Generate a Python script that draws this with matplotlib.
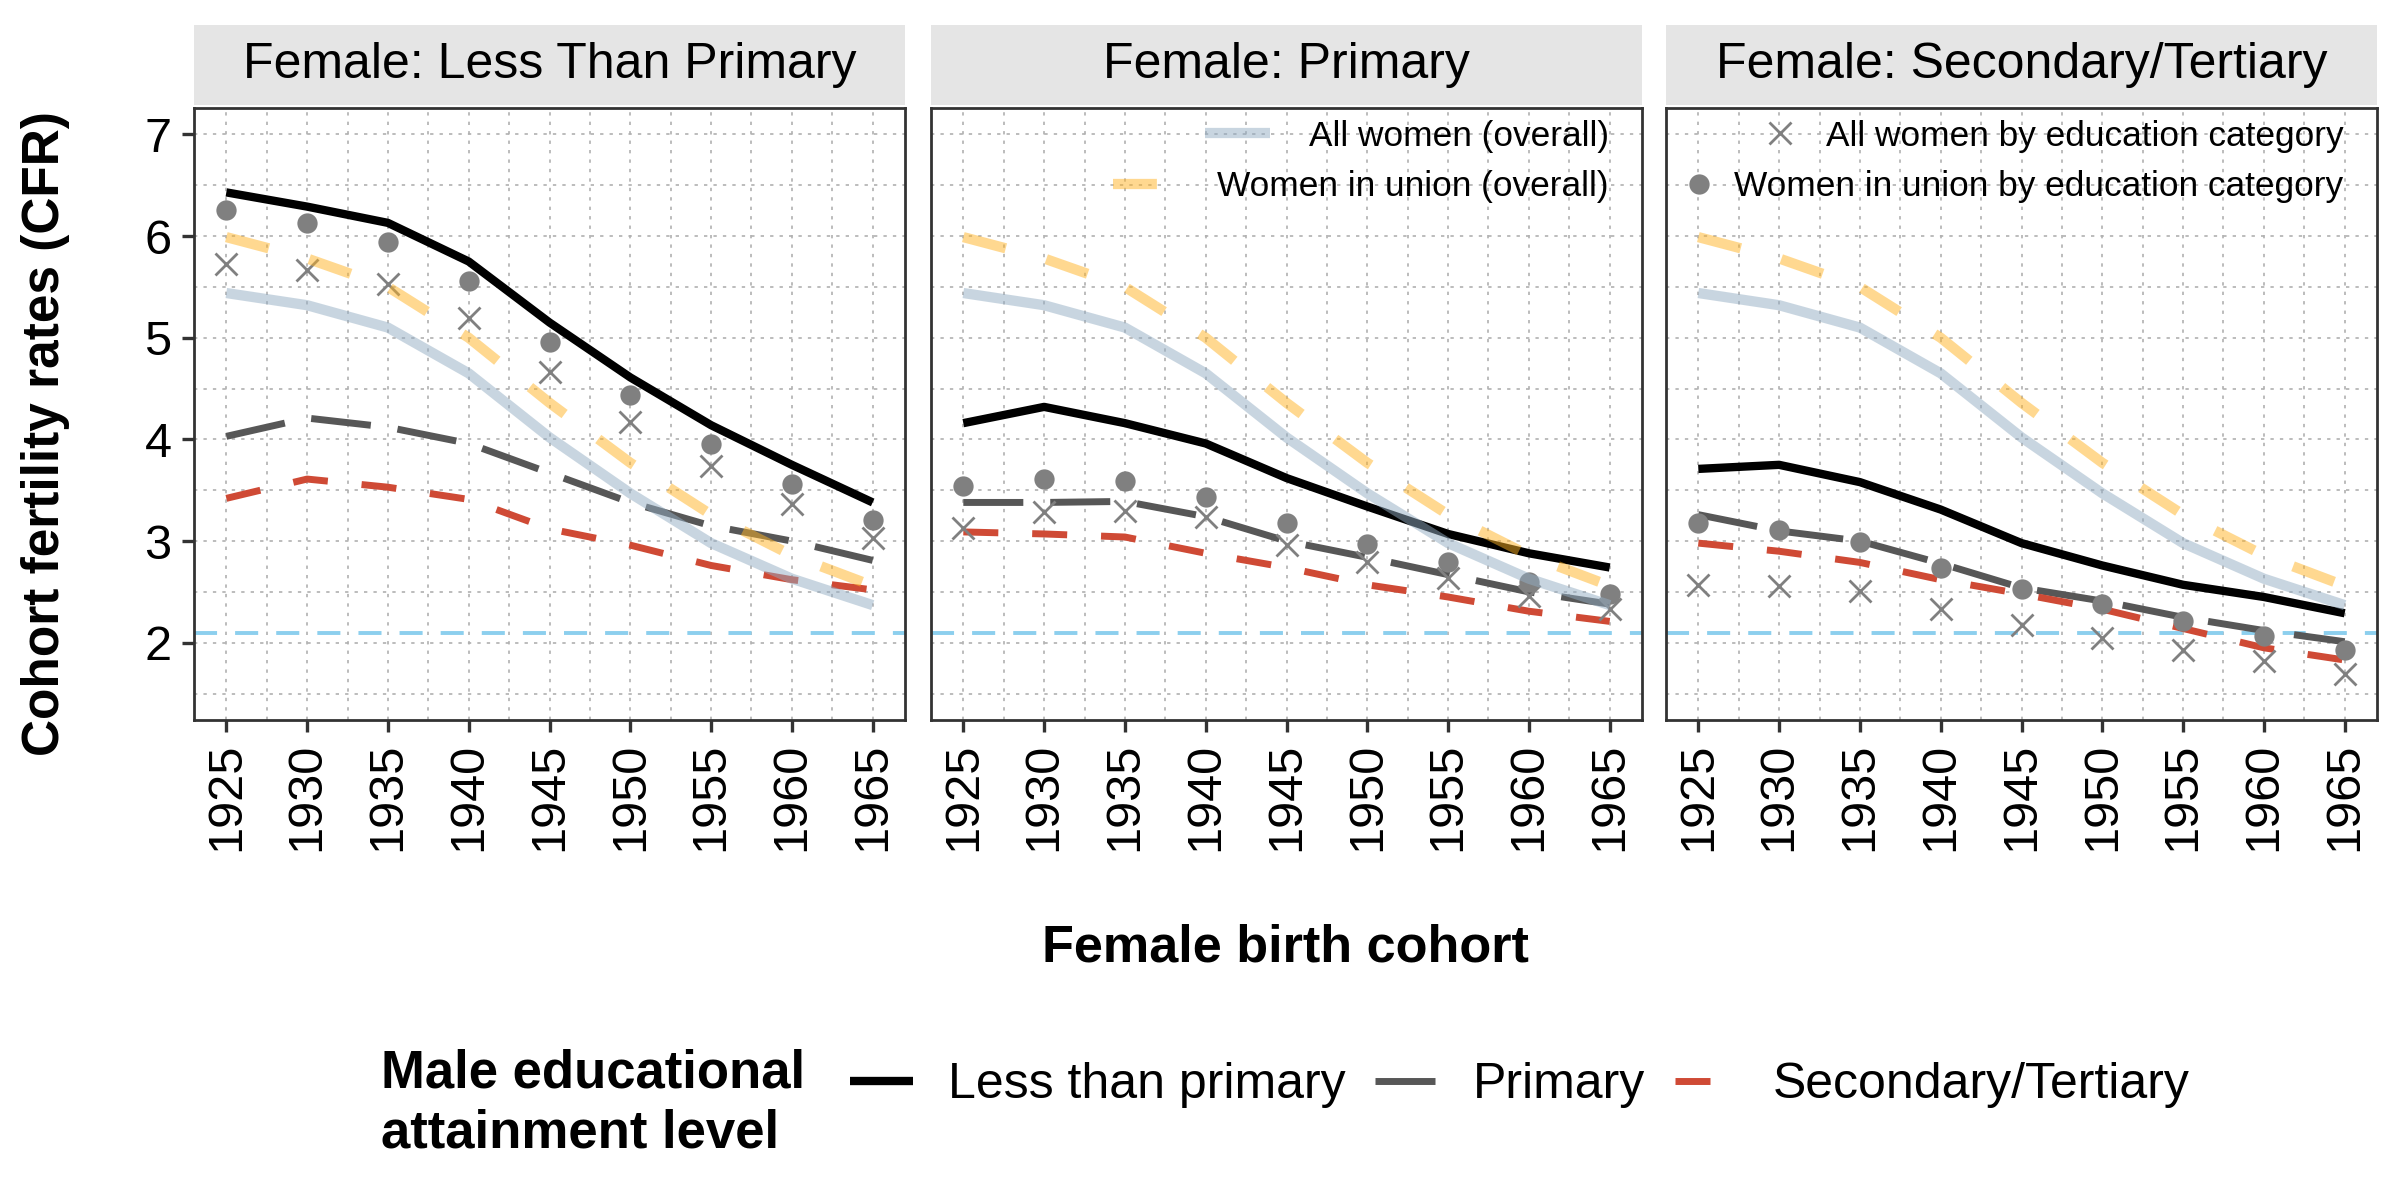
import matplotlib
matplotlib.use("Agg")
import matplotlib.pyplot as plt
from matplotlib.ticker import AutoMinorLocator
from matplotlib.lines import Line2D

plt.rcParams["font.family"] = ["Liberation Sans", "DejaVu Sans"]
plt.rcParams["lines.scale_dashes"] = False

# --- donnees ---
cohorts = [1925, 1930, 1935, 1940, 1945, 1950, 1955, 1960, 1965]
panel_titles = ["Female: Less Than Primary", "Female: Primary", "Female: Secondary/Tertiary"]
replacement_level = 2.1

all_women_overall = [5.44, 5.32, 5.10, 4.65, 4.02, 3.47, 2.98, 2.63, 2.37]
union_overall = [5.99, 5.78, 5.50, 5.00, 4.36, 3.77, 3.26, 2.86, 2.56]

# une liste par panneau (education de la femme)
male_less_primary = [
    [6.43, 6.29, 6.13, 5.75, 5.15, 4.61, 4.14, 3.75, 3.38],
    [4.16, 4.32, 4.16, 3.96, 3.62, 3.34, 3.07, 2.88, 2.74],
    [3.71, 3.75, 3.58, 3.31, 2.98, 2.76, 2.57, 2.45, 2.29],
]
male_primary = [
    [4.03, 4.21, 4.12, 3.96, 3.67, 3.38, 3.15, 3.00, 2.81],
    [3.38, 3.38, 3.39, 3.24, 3.00, 2.84, 2.67, 2.50, 2.38],
    [3.26, 3.10, 3.00, 2.78, 2.54, 2.41, 2.25, 2.12, 2.01],
]
male_secondary = [
    [3.42, 3.61, 3.53, 3.41, 3.12, 2.96, 2.76, 2.62, 2.52],
    [3.09, 3.07, 3.04, 2.88, 2.74, 2.57, 2.45, 2.31, 2.21],
    [2.98, 2.90, 2.79, 2.62, 2.48, 2.33, 2.14, 1.95, 1.83],
]
union_by_edu = [
    [6.26, 6.13, 5.94, 5.56, 4.96, 4.44, 3.95, 3.56, 3.21],
    [3.54, 3.61, 3.59, 3.43, 3.18, 2.97, 2.79, 2.60, 2.48],
    [3.18, 3.11, 2.99, 2.74, 2.53, 2.38, 2.21, 2.07, 1.93],
]
all_by_edu = [
    [5.73, 5.67, 5.53, 5.19, 4.66, 4.17, 3.74, 3.36, 3.03],
    [3.13, 3.29, 3.30, 3.24, 2.96, 2.79, 2.64, 2.46, 2.33],
    [2.57, 2.56, 2.51, 2.33, 2.17, 2.05, 1.93, 1.82, 1.69],
]

# --- styles ---
c_less = "#000000"
c_prim = "#575757"
c_sec = "#cf4a35"
c_allw = "#93adc3"
c_union = "#ffb323"
c_pts = "#808080"
c_hline = "#8ccfee"

st_less = dict(color=c_less, lw=3.0, ls="-", solid_capstyle="butt")
st_prim = dict(color=c_prim, lw=2.5, ls=(0, (21.6, 9.7)), dash_capstyle="butt")
st_sec = dict(color=c_sec, lw=2.5, ls=(0, (12.6, 12.2)), dash_capstyle="butt")
st_allw = dict(color=c_allw, lw=3.7, ls="-", alpha=0.5, solid_capstyle="butt")
st_union = dict(color=c_union, lw=3.7, ls=(0, (15.8, 15.1)), alpha=0.5, dash_capstyle="butt")
st_cross = dict(color=c_pts, marker="x", ls="none", ms=8, mew=1.0)
st_circ = dict(color=c_pts, marker="o", ls="none", ms=7.3, mew=0)

fig = plt.figure(figsize=(12, 6), dpi=200)

lefts = [194 / 2400, 931 / 2400, 1666 / 2400]
width = 711 / 2400
bottom = 1 - 720 / 1200
height = 612 / 1200

axes = []
for i, title in enumerate(panel_titles):
    ax = fig.add_axes([lefts[i], bottom, width, height])
    axes.append(ax)

    ax.axhline(replacement_level, color=c_hline, lw=1.4, ls=(0, (8.3, 6.5)), zorder=1)
    ax.plot(cohorts, male_less_primary[i], zorder=2, **st_less)
    ax.plot(cohorts, male_primary[i], zorder=2, **st_prim)
    ax.plot(cohorts, male_secondary[i], zorder=2, **st_sec)
    ax.plot(cohorts, all_by_edu[i], zorder=3, **st_cross)
    ax.plot(cohorts, union_by_edu[i], zorder=3, **st_circ)
    ax.plot(cohorts, all_women_overall, zorder=4, **st_allw)
    ax.plot(cohorts, union_overall, zorder=4, **st_union)

    ax.set_xlim(1923, 1967)
    ax.set_ylim(1.24, 7.26)
    ax.set_xticks(cohorts)
    ax.set_xticklabels([str(c) for c in cohorts], rotation=90)
    ax.set_yticks([2, 3, 4, 5, 6, 7])
    ax.xaxis.set_minor_locator(AutoMinorLocator(2))
    ax.yaxis.set_minor_locator(AutoMinorLocator(2))
    ax.grid(which="both", color="#b0b0b0", ls=(0, (1.2, 2.2)), lw=0.6, zorder=0)
    ax.set_axisbelow(True)
    ax.tick_params(which="minor", length=0)
    ax.tick_params(which="major", length=4.3, width=1.2, color="#333333",
                   labelsize=17.5, pad=3.8, labelcolor="black")
    if i > 0:
        ax.tick_params(axis="y", length=0, labelleft=False)
    for sp in ax.spines.values():
        sp.set_color("#333333")
        sp.set_linewidth(1.0)

    # bandeau du titre (facette)
    strip = fig.add_axes([lefts[i], 1 - 105 / 1200, width, 80 / 1200])
    strip.set_facecolor("#e5e5e5")
    strip.set_xticks([])
    strip.set_yticks([])
    for sp in strip.spines.values():
        sp.set_visible(False)
    strip.text(0.5, 0.5, title, ha="center", va="center", fontsize=18,
               transform=strip.transAxes)

# legendes internes (une entree par legende pour aligner a droite)
leg_kw = dict(loc="center right", frameon=False, fontsize=12.7, borderpad=0,
              borderaxespad=0)
l1 = axes[1].legend([Line2D([], [], **st_allw)], ["All women (overall)"],
                    bbox_to_anchor=(0.953, 0.954), handlelength=1.85,
                    handletextpad=1.1, **leg_kw)
axes[1].add_artist(l1)
axes[1].legend([Line2D([], [], **st_union)], ["Women in union (overall)"],
               bbox_to_anchor=(0.953, 0.871), handlelength=1.85,
               handletextpad=1.1, **leg_kw)

l3 = axes[2].legend([Line2D([], [], **st_cross)], ["All women by education category"],
                    bbox_to_anchor=(0.953, 0.954), handlelength=1.0,
                    handletextpad=0.8, **leg_kw)
axes[2].add_artist(l3)
axes[2].legend([Line2D([], [], **st_circ)], ["Women in union by education category"],
               bbox_to_anchor=(0.953, 0.871), handlelength=1.0,
               handletextpad=0.5, **leg_kw)

# titres des axes
fig.text(46 / 2400, 1 - 434 / 1200, "Cohort fertility rates (CFR)", rotation=90,
         ha="center", va="center", fontsize=18.5, fontweight="bold")
fig.text(1285 / 2400, 1 - 962 / 1200, "Female birth cohort", ha="center",
         va="baseline", fontsize=18.8, fontweight="bold")

# legende du bas
fig.text(381 / 2400, 1 - 1088 / 1200, "Male educational", ha="left",
         va="baseline", fontsize=19, fontweight="bold")
fig.text(381 / 2400, 1 - 1147 / 1200, "attainment level", ha="left",
         va="baseline", fontsize=19, fontweight="bold")
handles = [Line2D([], [], **st_less), Line2D([], [], **st_prim), Line2D([], [], **st_sec)]
fig.legend(handles, ["Less than primary", "Primary", "Secondary/Tertiary"],
           loc="center left", bbox_to_anchor=(850 / 2400, 1 - 1085 / 1200),
           ncol=3, frameon=False, fontsize=18, handlelength=1.25,
           handletextpad=0.7, columnspacing=0.6, borderpad=0, borderaxespad=0)

fig.savefig("out.png", dpi=200)
